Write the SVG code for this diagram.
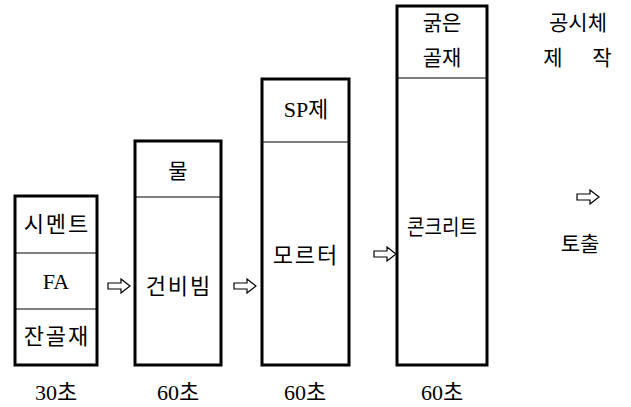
<svg xmlns="http://www.w3.org/2000/svg" width="631" height="407" viewBox="0 0 631 407">
<defs>
<style>
.box{fill:#fff;stroke:#000;stroke-width:3}
.div{stroke:#000;stroke-width:1.2}
.t{font-family:"Liberation Serif","Noto Sans CJK KR",serif;font-size:21px;fill:#000;text-anchor:middle}
.n{font-size:22px}
.w{font-size:22px;letter-spacing:2px}
.arr{fill:#fff;stroke:#000;stroke-width:1.2;stroke-linejoin:miter}
</style>
<path id="ar" d="M0,-3 H13 V-7 L22,0 L13,7 V3 H0 Z"/>
</defs>
<rect width="631" height="407" fill="#fff"/>
<g id="box1">
<rect class="box" x="15" y="196" width="82" height="169"/>
<line class="div" x1="15" y1="253" x2="97" y2="253"/>
<line class="div" x1="15" y1="309" x2="97" y2="309"/>
<text class="t w" x="57" y="232">시멘트</text>
<text class="t n" x="56" y="289">FA</text>
<text class="t w" x="57" y="344">잔골재</text>
</g>
<g id="box2">
<rect class="box" x="135" y="141" width="86" height="224"/>
<line class="div" x1="135" y1="197" x2="221" y2="197"/>
<text class="t" x="178" y="178">물</text>
<text class="t w" x="179" y="294">건비빔</text>
</g>
<g id="box3">
<rect class="box" x="262" y="79" width="87" height="286"/>
<line class="div" x1="262" y1="142" x2="349" y2="142"/>
<text class="t n" x="306" y="117">SP제</text>
<text class="t w" x="306" y="263">모르터</text>
</g>
<g id="box4">
<rect class="box" x="397" y="6" width="90" height="359"/>
<line class="div" x1="397" y1="78" x2="487" y2="78"/>
<text class="t" x="442" y="30">굵은</text>
<text class="t" x="442" y="65">골재</text>
<text class="t" x="442" y="234" textLength="70" lengthAdjust="spacingAndGlyphs">콘크리트</text>
</g>
<g id="specimen">
<text class="t" x="578" y="30">공시체</text>
<text class="t" x="553" y="65">제</text>
<text class="t" x="602" y="65">작</text>
</g>
<g id="discharge">
<text class="t" x="580" y="251">토출</text>
</g>
<g id="times">
<text class="t n" x="56" y="400">30초</text>
<text class="t n" x="178" y="400">60초</text>
<text class="t n" x="305" y="400">60초</text>
<text class="t n" x="442" y="400">60초</text>
</g>
<g id="connectors">
<use href="#ar" class="arr" transform="translate(108,286)"/>
<use href="#ar" class="arr" transform="translate(234,286)"/>
<use href="#ar" class="arr" transform="translate(374,254)"/>
<use href="#ar" class="arr" transform="translate(577,197)"/>
</g>
</svg>
